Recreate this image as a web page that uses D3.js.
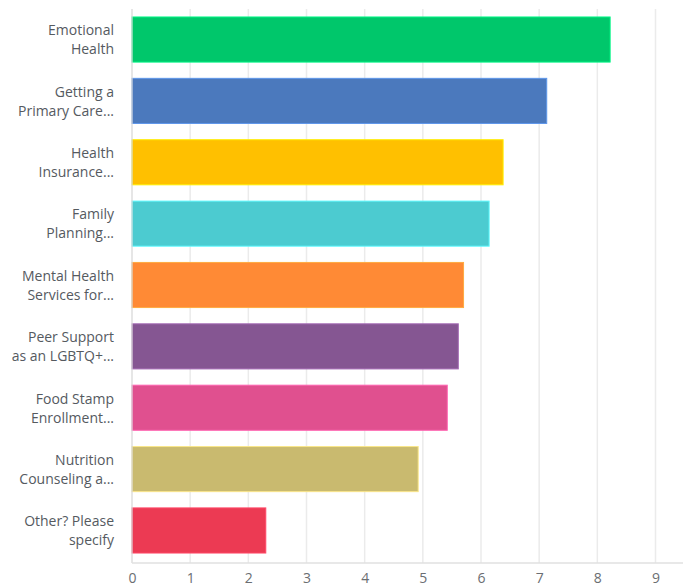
<!DOCTYPE html>
<html>
<head>
<meta charset="utf-8">
<script src="https://cdn.jsdelivr.net/npm/d3@7"></script>
<style>
  body { margin: 0; background: #fff; }
  .tick text { font-family: "Open Sans", sans-serif; }
</style>
</head>
<body>
<svg id="chart" width="683" height="588"></svg>
<script>
// categories, two lines each as shown on the chart
const categories = [
  ['Emotional', 'Health'],
  ['Getting a', 'Primary Care...'],
  ['Health', 'Insurance...'],
  ['Family', 'Planning...'],
  ['Mental Health', 'Services for...'],
  ['Peer Support', 'as an LGBTQ+...'],
  ['Food Stamp', 'Enrollment...'],
  ['Nutrition', 'Counseling a...'],
  ['Other? Please', 'specify']
];
const values = [8.22, 7.13, 6.38, 6.14, 5.70, 5.61, 5.42, 4.92, 2.30];
const colors = ['#00c76b', '#4b79bd', '#ffc000', '#4ccbd0', '#ff8a35', '#855692', '#e0508f', '#c9ba6f', '#ec3a53'];
const xTicks = [0, 1, 2, 3, 4, 5, 6, 7, 8, 9];

const margin = { top: 9, right: 0, bottom: 27, left: 132 };
const svg = d3.select('#chart');
const width = +svg.attr('width') - margin.left - margin.right;
const height = +svg.attr('height') - margin.top - margin.bottom;

const g = svg.append('g').attr('transform', `translate(${margin.left},${margin.top})`);

const x = d3.scaleLinear().domain([0, 9]).range([0, 523.5]);
const y = d3.scaleBand().domain(d3.range(categories.length)).range([0, 552]).paddingInner(0.265).paddingOuter(0.13);

// gridlines
g.selectAll('.grid').data(xTicks.slice(1)).enter().append('line')
  .attr('x1', d => x(d)).attr('x2', d => x(d))
  .attr('y1', 0).attr('y2', 554)
  .attr('stroke', '#ebebeb').attr('stroke-width', 1.5);

// bars
g.selectAll('.bar').data(values).enter().append('rect')
  .attr('class', 'bar')
  .attr('x', x(0))
  .attr('y', (d, i) => y(i))
  .attr('width', d => x(d) - x(0))
  .attr('height', y.bandwidth())
  .attr('fill', (d, i) => colors[i])
  .attr('stroke', (d, i) => d3.color(colors[i]).brighter(0.6))
  .attr('stroke-width', 1);

// axis lines
g.append('line').attr('x1', 0).attr('x2', 0).attr('y1', 0).attr('y2', 554)
  .attr('stroke', '#d6d6d6').attr('stroke-width', 1.2);
g.append('line').attr('x1', 0).attr('x2', width).attr('y1', 554).attr('y2', 554)
  .attr('stroke', '#e0e0e0').attr('stroke-width', 1.5);

// x tick labels
const xAxis = g.append('g').attr('transform', 'translate(0,554)')
  .call(d3.axisBottom(x).tickValues(xTicks).tickSize(0).tickPadding(10));
xAxis.select('.domain').remove();
xAxis.selectAll('text')
  .attr('font-size', 14).attr('fill', '#6b6e72');

// y category labels
const labels = g.selectAll('.cat').data(categories).enter().append('text')
  .attr('class', 'cat')
  .attr('x', -18)
  .attr('y', (d, i) => y(i) + y.bandwidth() / 2)
  .attr('text-anchor', 'end')
  .attr('font-family', '"Open Sans", sans-serif')
  .attr('font-size', 14)
  .attr('fill', '#555a5f');
labels.each(function(d) {
  const t = d3.select(this);
  d.forEach((line, k) => {
    t.append('tspan').attr('x', -18)
      .attr('dy', k === 0 ? '-0.3em' : '1.36em')
      .text(line);
  });
});
</script>
</body>
</html>
